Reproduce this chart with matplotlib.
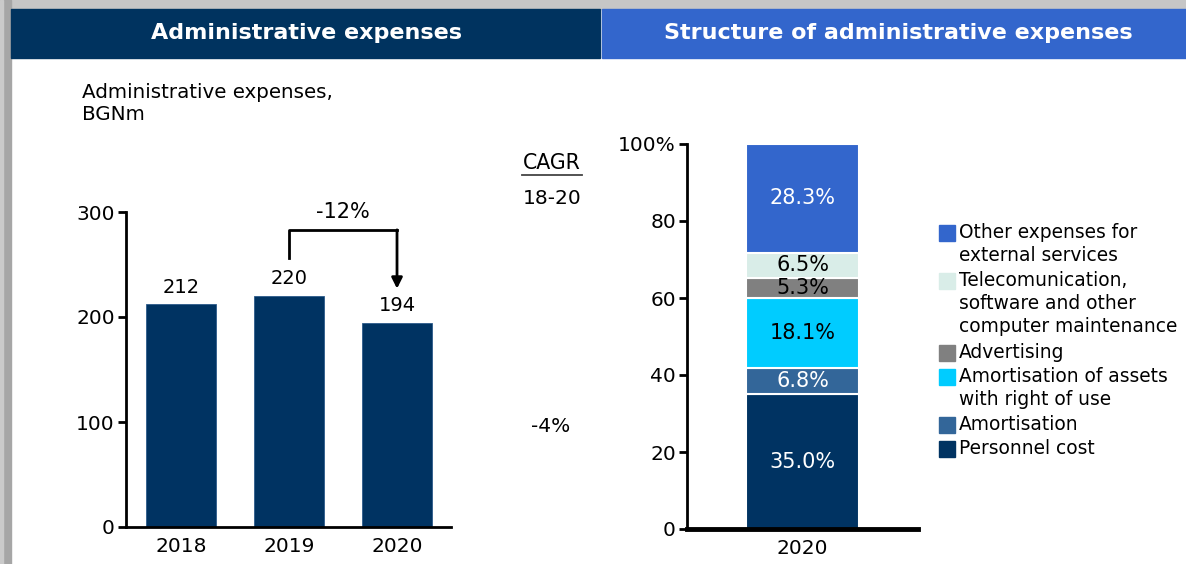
import numpy as np
import matplotlib.pyplot as plt
from matplotlib.patches import Rectangle
from matplotlib.lines import Line2D

plt.rcParams['font.family'] = ['DejaVu Sans']

# left chart data
years = ["2018", "2019", "2020"]
expenses = [212, 220, 194]
yoy_label = "-12%"
cagr_period = "18-20"
cagr_value = "-4%"

# right chart data (bottom -> top)
segments = ["Personnel cost", "Amortisation",
            "Amortisation of assets\nwith right of use", "Advertising",
            "Telecomunication,\nsoftware and other\ncomputer maintenance",
            "Other expenses for\nexternal services"]
shares = [35.0, 6.8, 18.1, 5.3, 6.5, 28.3]
seg_colors = ["#003362", "#336699", "#00CCFF", "#808080", "#D9EDE8", "#3366CC"]
seg_txt = ["white", "white", "black", "black", "black", "white"]

W, H = 1186, 564
navy = "#003362"

def fx(px):
    return px / W

def fy(py):
    return 1 - py / H

fig = plt.figure(figsize=(W / 100, H / 100), dpi=100)
fig.patch.set_facecolor("white")

# shadow frame + header bars
fig.patches.append(Rectangle((0, fy(9)), 1, 9 / H, transform=fig.transFigure, color="#c6c6c6", zorder=0))
fig.patches.append(Rectangle((0, 0), fx(11), 1, transform=fig.transFigure, color="#a6a6a6", zorder=0))
fig.patches.append(Rectangle((0, 0), fx(3), 1, transform=fig.transFigure, color="#cacaca", zorder=0))
fig.patches.append(Rectangle((fx(11), fy(58)), fx(600) - fx(11), 49 / H, transform=fig.transFigure, color="#00335F", zorder=1))
fig.patches.append(Rectangle((fx(602), fy(58)), 1 - fx(602), 49 / H, transform=fig.transFigure, color="#3366CC", zorder=1))
fig.text(fx(306), fy(33), "Administrative expenses", color="white", fontsize=16, fontweight="bold", ha="center", va="center")
fig.text(fx(898), fy(33), "Structure of administrative expenses", color="white", fontsize=16, fontweight="bold", ha="center", va="center")

fig.text(fx(82), fy(103), "Administrative expenses,\nBGNm", fontsize=14.3, ha="left", va="center", linespacing=1.2)

# ---- left bar chart
ax1 = fig.add_axes([fx(126), fy(527), fx(451) - fx(126), fy(212) - fy(527)])
x = np.arange(len(years))
ax1.bar(x, expenses, width=0.645, color=navy, edgecolor="#2c5a8a", linewidth=0.6)
for xi, v in zip(x, expenses):
    ax1.annotate(str(v), (xi, v), xytext=(0, 12.5), textcoords="offset points",
                 ha="center", va="center", fontsize=14)
ax1.set_xlim(-0.51, 2.5)
ax1.set_ylim(0, 300)
ax1.set_yticks([0, 100, 200, 300])
ax1.set_xticks(x)
ax1.set_xticklabels(years)
for s in ["top", "right"]:
    ax1.spines[s].set_visible(False)
for s in ["left", "bottom"]:
    ax1.spines[s].set_linewidth(2)
ax1.tick_params(axis="y", length=6, width=2, labelsize=14.5, pad=2)
ax1.tick_params(axis="x", length=0, labelsize=14.5, pad=7)

# bracket arrow 2019 -> 2020
y_top = max(expenses[1:]) + 63
ax1.plot([1, 1, 2], [expenses[1] + 36, y_top, y_top], color="black", lw=2, clip_on=False)
ax1.annotate("", xy=(2, expenses[2] + 33), xytext=(2, y_top),
             arrowprops=dict(arrowstyle="-|>", color="black", lw=2, mutation_scale=16, shrinkA=0, shrinkB=0),
             annotation_clip=False)
ax1.text(1.5, 300, yoy_label, ha="center", va="center", fontsize=15, clip_on=False)

# CAGR note
fig.text(fx(552), fy(163), "CAGR", ha="center", va="center", fontsize=14.8)
fig.add_artist(Line2D([fx(522), fx(582)], [fy(174.5), fy(174.5)], transform=fig.transFigure, color="#444444", lw=1.3))
fig.text(fx(552), fy(198), cagr_period, ha="center", va="center", fontsize=14.5)
fig.text(fx(551), fy(426), cagr_value, ha="center", va="center", fontsize=14.5)

# ---- right stacked bar
ax2 = fig.add_axes([fx(687), fy(529), fx(918) - fx(687), fy(144) - fy(529)])
bottom = 0
for val, col, tc in zip(shares, seg_colors, seg_txt):
    ax2.bar(0, val, bottom=bottom, width=1.0, color=col, edgecolor="white", linewidth=1.5)
    ax2.text(0, bottom + val / 2, f"{val:.1f}%", ha="center", va="center", color=tc, fontsize=15)
    bottom += val
ax2.set_xlim(-1.03, 1.03)
ax2.set_ylim(0, 100)
ax2.set_yticks([0, 20, 40, 60, 80, 100])
ax2.set_yticklabels(["0", "20", "40", "60", "80", "100%"])
ax2.set_xticks([0])
ax2.set_xticklabels(["2020"])
for s in ["top", "right"]:
    ax2.spines[s].set_visible(False)
ax2.spines["left"].set_linewidth(2)
ax2.spines["bottom"].set_linewidth(3.5)
ax2.tick_params(axis="y", length=6, width=2, labelsize=14.5, pad=2)
ax2.tick_params(axis="x", length=0, labelsize=14.5, pad=7)

# legend, top entry first
line_h = 24
row = 0
for lab, col in zip(segments[::-1], seg_colors[::-1]):
    ytxt = 233 + row * line_h
    fig.patches.append(Rectangle((fx(939), fy(ytxt + 8)), fx(955) - fx(939), 16 / H,
                                 transform=fig.transFigure, color=col))
    fig.text(fx(959), fy(ytxt - 10), lab, ha="left", va="top", fontsize=13.4, linespacing=1.26)
    row += lab.count("\n") + 1

fig.savefig("out.png", dpi=100)
